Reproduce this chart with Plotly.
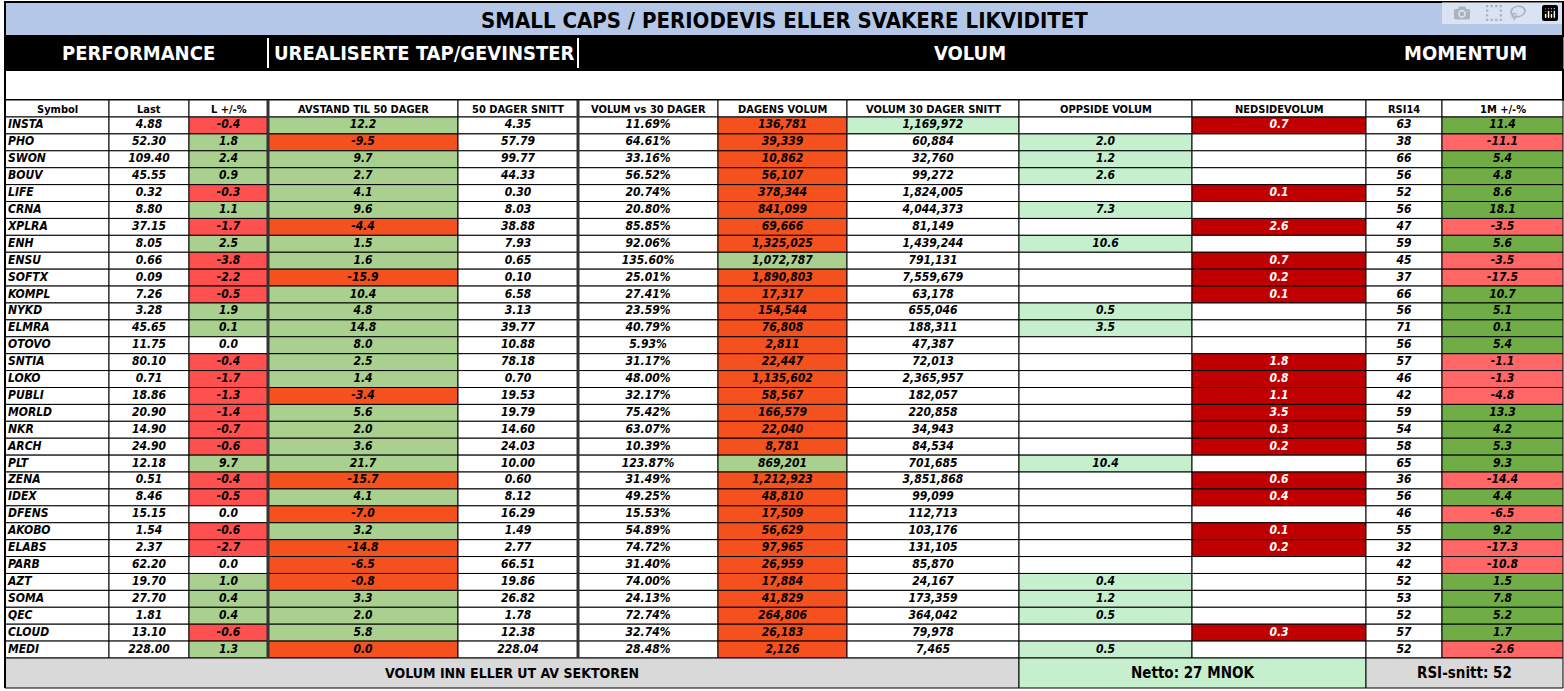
import plotly.graph_objects as go

symbols = ["INSTA","PHO","SWON","BOUV","LIFE","CRNA","XPLRA","ENH","ENSU","SOFTX","KOMPL","NYKD","ELMRA","OTOVO","SNTIA","LOKO","PUBLI","MORLD","NKR","ARCH","PLT","ZENA","IDEX","DFENS","AKOBO","ELABS","PARB","AZT","SOMA","QEC","CLOUD","MEDI"]
last = [4.88,52.30,109.40,45.55,0.32,8.80,37.15,8.05,0.66,0.09,7.26,3.28,45.65,11.75,80.10,0.71,18.86,20.90,14.90,24.90,12.18,0.51,8.46,15.15,1.54,2.37,62.20,19.70,27.70,1.81,13.10,228.00]
chg = [-0.4,1.8,2.4,0.9,-0.3,1.1,-1.7,2.5,-3.8,-2.2,-0.5,1.9,0.1,0.0,-0.4,-1.7,-1.3,-1.4,-0.7,-0.6,9.7,-0.4,-0.5,0.0,-0.6,-2.7,0.0,1.0,0.4,0.4,-0.6,1.3]
avstand = [12.2,-9.5,9.7,2.7,4.1,9.6,-4.4,1.5,1.6,-15.9,10.4,4.8,14.8,8.0,2.5,1.4,-3.4,5.6,2.0,3.6,21.7,-15.7,4.1,-7.0,3.2,-14.8,-6.5,-0.8,3.3,2.0,5.8,0.0]
snitt50 = [4.35,57.79,99.77,44.33,0.30,8.03,38.88,7.93,0.65,0.10,6.58,3.13,39.77,10.88,78.18,0.70,19.53,19.79,14.60,24.03,10.00,0.60,8.12,16.29,1.49,2.77,66.51,19.86,26.82,1.78,12.38,228.04]
volpct = [11.69,64.61,33.16,56.52,20.74,20.80,85.85,92.06,135.60,25.01,27.41,23.59,40.79,5.93,31.17,48.00,32.17,75.42,63.07,10.39,123.87,31.49,49.25,15.53,54.89,74.72,31.40,74.00,24.13,72.74,32.74,28.48]
dagens = [136781,39339,10862,56107,378344,841099,69666,1325025,1072787,1890803,17317,154544,76808,2811,22447,1135602,58567,166579,22040,8781,869201,1212923,48810,17509,56629,97965,26959,17884,41829,264806,26183,2126]
avg30 = [1169972,60884,32760,99272,1824005,4044373,81149,1439244,791131,7559679,63178,655046,188311,47387,72013,2365957,182057,220858,34943,84534,701685,3851868,99099,112713,103176,131105,85870,24167,173359,364042,79978,7465]
oppside = [None,2.0,1.2,2.6,None,7.3,None,10.6,None,None,None,0.5,3.5,None,None,None,None,None,None,None,10.4,None,None,None,None,None,None,0.4,1.2,0.5,None,0.5]
nedside = [0.7,None,None,None,0.1,None,2.6,None,0.7,0.2,0.1,None,None,None,1.8,0.8,1.1,3.5,0.3,0.2,None,0.6,0.4,None,0.1,0.2,None,None,None,None,0.3,None]
rsi = [63,38,66,56,52,56,47,59,45,37,66,56,71,56,57,46,42,59,54,58,65,36,56,46,55,32,42,52,53,52,57,52]
m1 = [11.4,-11.1,5.4,4.8,8.6,18.1,-3.5,5.6,-3.5,-17.5,10.7,5.1,0.1,5.4,-1.1,-1.3,-4.8,13.3,4.2,5.3,9.3,-14.4,4.4,-6.5,9.2,-17.3,-10.8,1.5,7.8,5.2,1.7,-2.6]
headers = ["Symbol","Last","L +/-%","AVSTAND TIL 50 DAGER","50 DAGER SNITT","VOLUM vs 30 DAGER","DAGENS VOLUM","VOLUM 30 DAGER SNITT","OPPSIDE VOLUM","NEDSIDEVOLUM","RSI14","1M +/-%"]
sections = ["PERFORMANCE","UREALISERTE TAP/GEVINSTER","VOLUM","MOMENTUM"]
title = "SMALL CAPS / PERIODEVIS ELLER SVAKERE LIKVIDITET"
footer = ["VOLUM INN ELLER UT AV SEKTOREN","Netto: 27 MNOK","RSI-snitt: 52"]

RED, GREEN, ORANGE, LGREEN, DRED, GREEN2, RED2 = "#ff5050","#a9d08e","#f4511e","#c6efce","#c00000","#70ad47","#ff6666"
W, H = 1564, 691
FONT = "Liberation Sans Narrow, DejaVu Sans Condensed"
def bi(s): return f"<b><i>{s}</i></b>"
def fmtint(v): return f"{v:,}"

cols = [
    [bi(s) for s in symbols],
    [bi(f"{v:.2f}") for v in last],
    [bi(f"{v:.1f}") for v in chg],
    [bi(f"{v:.1f}") for v in avstand],
    [bi(f"{v:.2f}") for v in snitt50],
    [bi(f"{v:.2f}%") for v in volpct],
    [bi(fmtint(v)) for v in dagens],
    [bi(fmtint(v)) for v in avg30],
    [bi(f"{v:.1f}") if v is not None else "" for v in oppside],
    [bi(f"{v:.1f}") if v is not None else "" for v in nedside],
    [bi(v) for v in rsi],
    [bi(f"{v:.1f}") for v in m1],
]
wh = "white"
fills = [
    [wh]*32, [wh]*32,
    [RED if v < 0 else (GREEN if v > 0 else wh) for v in chg],
    [GREEN if v > 0 else ORANGE for v in avstand],
    [wh]*32, [wh]*32,
    [GREEN if p > 100 else ORANGE for p in volpct],
    [LGREEN if i == 0 else wh for i in range(32)],
    [LGREEN if v is not None else wh for v in oppside],
    [DRED if v is not None else wh for v in nedside],
    [wh]*32,
    [GREEN2 if v > 0 else RED2 for v in m1],
]
fontcols = [["black"]*32]*9 + [["white" if v is not None else "black" for v in nedside]] + [["black"]*32]*2

# layout geometry (pixels)
edges = [5,109,189,268,458,578,718,847,1019,1192,1366,1442,1563]
HEAD_TOP, ROW_TOP, ROW_BOT = 100, 117, 658
n = len(symbols)
rh = (ROW_BOT - ROW_TOP) / n

shapes, ann = [], []
def rect(x0,y0,x1,y1,fill,lw=1,color="black"):
    shapes.append(dict(type="rect", xref="x", yref="y", x0=x0, x1=x1, y0=y0, y1=y1,
                       fillcolor=fill, line=dict(color=color, width=lw), layer="below"))
def line(x0,y0,x1,y1,color,lw):
    shapes.append(dict(type="line", xref="x", yref="y", x0=x0, x1=x1, y0=y0, y1=y1, line=dict(color=color, width=lw), layer="above"))
def text(x,y,s,size,color="black"):
    ann.append(dict(xref="x", yref="y", x=x, y=y, text=f"<b>{s}</b>", showarrow=False,
                    xanchor="center", yanchor="middle", font=dict(family=FONT, size=size, color=color)))

rect(5,2,1563,36,"#b4c7e7",2)
text(784,20,title,22)
rect(5,36,1563,70,"black",1)
for x in (268,578):
    line(x,38,x,68,"white",2)
for x, s in zip((138,424,970,1465), sections):
    text(x,53,s,20,"white")
rect(5,70,1563,100,"white",2)

fig = go.Figure()
for c in range(12):
    x0, x1 = edges[c], edges[c+1]
    rect(x0,HEAD_TOP,x1,ROW_TOP,"white")
    text((x0+x1)/2,(HEAD_TOP+ROW_TOP)/2+0.5,headers[c],11)
    for r in range(n):
        rect(x0,ROW_TOP+r*rh,x1,ROW_TOP+(r+1)*rh,fills[c][r])
    xs = [x0+3]*n if c == 0 else [(x0+x1)/2]*n
    ys = [ROW_TOP+(r+0.5)*rh for r in range(n)]
    fig.add_trace(go.Scatter(x=xs, y=ys, text=cols[c], mode="text",
                             textposition="middle right" if c == 0 else "middle center",
                             textfont=dict(family=FONT, size=12, color=fontcols[c]),
                             hoverinfo="skip", showlegend=False))
for x in (268,578):
    line(x,HEAD_TOP,x,ROW_BOT,"#333",3)
line(5,2,5,688,"black",2)

rect(5,658,1019,688,"#d9d9d9")
rect(1019,658,1366,688,LGREEN)
rect(1366,658,1563,688,"#d9d9d9")
text(512,673,footer[0],14)
text(1192,673,footer[1],15)
text(1464,673,footer[2],15)

fig.update_layout(width=W, height=H, margin=dict(l=0,r=0,t=0,b=0), paper_bgcolor="white", plot_bgcolor="white",
                  shapes=shapes, annotations=ann,
                  xaxis=dict(range=[0,W], visible=False, fixedrange=True),
                  yaxis=dict(range=[H,0], visible=False, fixedrange=True))
fig.write_html("out.html", post_script="document.body.style.margin='0';")
